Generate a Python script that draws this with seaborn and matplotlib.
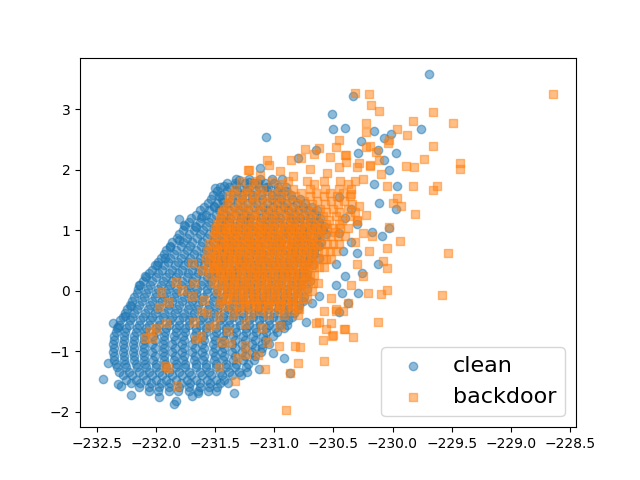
import matplotlib
matplotlib.use("Agg")
import matplotlib.pyplot as plt
import seaborn as sns

# clean (blue) - dense core, one list of x per row
blue_row_y = [1.85, 1.72, 1.59, 1.46, 1.33, 1.20, 1.07, 0.94, 0.81, 0.68, 0.55, 0.42, 0.29, 0.16, 0.03,
              -0.10, -0.23, -0.36, -0.49, -0.62, -0.75, -0.88, -1.01, -1.14, -1.27, -1.40, -1.53, -1.66]
blue_row_x = [
    [-231.32, -231.21, -231.12, -231.02, -230.93],
    [-231.46, -231.38, -231.30, -231.22, -231.13, -231.05, -230.97, -230.90],
    [-231.52, -231.44, -231.35, -231.27, -231.19, -231.11, -231.02, -230.94, -230.86],
    [-231.56, -231.48, -231.40, -231.31, -231.23, -231.15, -231.06, -230.98, -230.90, -230.81, -230.74],
    [-231.63, -231.55, -231.47, -231.38, -231.30, -231.22, -231.13, -231.05, -230.97, -230.88, -230.80, -230.71, -230.64],
    [-231.70, -231.62, -231.53, -231.45, -231.37, -231.28, -231.20, -231.11, -231.03, -230.95, -230.86, -230.78, -230.70, -230.61],
    [-231.75, -231.67, -231.58, -231.50, -231.42, -231.33, -231.25, -231.17, -231.08, -231.00, -230.92, -230.83, -230.75, -230.66, -230.58],
    [-231.80, -231.72, -231.63, -231.55, -231.47, -231.38, -231.30, -231.22, -231.13, -231.05, -230.97, -230.88, -230.80, -230.72, -230.63, -230.56],
    [-231.86, -231.77, -231.69, -231.61, -231.52, -231.44, -231.36, -231.27, -231.19, -231.10, -231.02, -230.94, -230.85, -230.77, -230.69, -230.60],
    [-231.91, -231.83, -231.74, -231.66, -231.58, -231.49, -231.41, -231.33, -231.24, -231.16, -231.07, -230.99, -230.91, -230.82, -230.74, -230.66],
    [-231.96, -231.88, -231.79, -231.71, -231.63, -231.54, -231.46, -231.38, -231.29, -231.21, -231.12, -231.04, -230.96, -230.87, -230.79, -230.70, -230.62],
    [-232.01, -231.93, -231.84, -231.76, -231.68, -231.59, -231.51, -231.43, -231.34, -231.26, -231.17, -231.09, -231.01, -230.92, -230.84, -230.75, -230.67],
    [-232.06, -231.98, -231.89, -231.81, -231.73, -231.64, -231.56, -231.48, -231.39, -231.31, -231.22, -231.14, -231.06, -230.97, -230.89, -230.80, -230.72],
    [-232.11, -232.03, -231.94, -231.86, -231.78, -231.69, -231.61, -231.53, -231.44, -231.36, -231.27, -231.19, -231.11, -231.02, -230.94, -230.85, -230.77, -230.70],
    [-232.15, -232.07, -231.98, -231.90, -231.82, -231.73, -231.65, -231.57, -231.48, -231.40, -231.31, -231.23, -231.15, -231.06, -230.98, -230.89, -230.81, -230.72],
    [-232.18, -232.10, -232.01, -231.93, -231.85, -231.76, -231.68, -231.60, -231.51, -231.43, -231.34, -231.26, -231.18, -231.09, -231.01, -230.92, -230.84, -230.75],
    [-232.22, -232.14, -232.05, -231.97, -231.89, -231.80, -231.72, -231.64, -231.55, -231.47, -231.38, -231.30, -231.22, -231.13, -231.05, -230.96, -230.88, -230.79],
    [-232.26, -232.18, -232.09, -232.01, -231.93, -231.84, -231.76, -231.68, -231.59, -231.51, -231.42, -231.34, -231.26, -231.17, -231.09, -231.00, -230.92, -230.83],
    [-232.30, -232.22, -232.13, -232.05, -231.97, -231.88, -231.80, -231.72, -231.63, -231.55, -231.46, -231.38, -231.30, -231.21, -231.13, -231.04, -230.96, -230.88],
    [-232.33, -232.25, -232.16, -232.08, -232.00, -231.91, -231.83, -231.75, -231.66, -231.58, -231.49, -231.41, -231.33, -231.24, -231.16, -231.07, -230.99, -230.92],
    [-232.35, -232.27, -232.18, -232.10, -232.02, -231.93, -231.85, -231.77, -231.68, -231.60, -231.51, -231.43, -231.35, -231.26, -231.18, -231.09, -231.01],
    [-232.36, -232.28, -232.19, -232.11, -232.03, -231.94, -231.86, -231.78, -231.69, -231.61, -231.52, -231.44, -231.36, -231.27, -231.19, -231.10, -231.04],
    [-232.36, -232.28, -232.19, -232.11, -232.03, -231.94, -231.86, -231.78, -231.69, -231.61, -231.52, -231.44, -231.36, -231.27, -231.19, -231.11],
    [-232.35, -232.27, -232.18, -232.10, -232.02, -231.93, -231.85, -231.77, -231.68, -231.60, -231.51, -231.43, -231.35, -231.26, -231.17],
    [-232.33, -232.25, -232.16, -232.08, -232.00, -231.91, -231.83, -231.75, -231.66, -231.58, -231.49, -231.41, -231.33, -231.24],
    [-232.28, -232.20, -232.11, -232.03, -231.95, -231.86, -231.78, -231.70, -231.61, -231.53, -231.44, -231.36, -231.28],
    [-232.21, -232.13, -232.04, -231.96, -231.88, -231.79, -231.71, -231.63, -231.54, -231.46, -231.39],
    [-232.06, -231.98, -231.89, -231.81, -231.72, -231.64, -231.56],
]

# clean (blue) - second pass through the core, between the rows above
blue_row2_y = [1.78, 1.65, 1.52, 1.39, 1.26, 1.13, 1.00, 0.87, 0.74, 0.61, 0.48, 0.35, 0.22, 0.09, -0.04,
               -0.17, -0.30, -0.43, -0.56, -0.69, -0.82, -0.95, -1.08, -1.21, -1.34, -1.47, -1.60]
blue_row2_x = [
    [-231.40, -231.33, -231.25, -231.17, -231.08, -231.00],
    [-231.48, -231.40, -231.31, -231.23, -231.15, -231.06, -230.98, -230.90],
    [-231.53, -231.44, -231.36, -231.27, -231.19, -231.10, -231.02, -230.94, -230.85, -230.78],
    [-231.59, -231.51, -231.43, -231.34, -231.26, -231.17, -231.09, -231.01, -230.92, -230.84, -230.76, -230.68],
    [-231.66, -231.58, -231.49, -231.41, -231.32, -231.24, -231.16, -231.07, -230.99, -230.90, -230.82, -230.74, -230.65],
    [-231.72, -231.63, -231.55, -231.46, -231.38, -231.29, -231.21, -231.12, -231.04, -230.96, -230.87, -230.79, -230.70, -230.62],
    [-231.77, -231.68, -231.60, -231.51, -231.43, -231.34, -231.26, -231.18, -231.09, -231.01, -230.92, -230.84, -230.76, -230.67, -230.59],
    [-231.82, -231.74, -231.65, -231.57, -231.48, -231.40, -231.32, -231.23, -231.15, -231.06, -230.98, -230.90, -230.81, -230.73, -230.64],
    [-231.88, -231.79, -231.71, -231.62, -231.54, -231.45, -231.37, -231.29, -231.20, -231.12, -231.03, -230.95, -230.86, -230.78, -230.70, -230.62],
    [-231.93, -231.85, -231.76, -231.68, -231.59, -231.51, -231.42, -231.34, -231.26, -231.17, -231.09, -231.00, -230.92, -230.83, -230.75, -230.66],
    [-231.98, -231.90, -231.81, -231.73, -231.64, -231.56, -231.47, -231.39, -231.30, -231.22, -231.14, -231.05, -230.97, -230.88, -230.80, -230.71],
    [-232.03, -231.95, -231.86, -231.78, -231.69, -231.61, -231.52, -231.44, -231.35, -231.27, -231.19, -231.10, -231.02, -230.93, -230.85, -230.76],
    [-232.08, -232.00, -231.91, -231.83, -231.74, -231.66, -231.57, -231.49, -231.40, -231.32, -231.23, -231.15, -231.06, -230.98, -230.89, -230.81, -230.73],
    [-232.13, -232.05, -231.96, -231.88, -231.79, -231.71, -231.62, -231.54, -231.45, -231.37, -231.28, -231.20, -231.11, -231.03, -230.94, -230.86, -230.77],
    [-232.16, -232.08, -232.00, -231.91, -231.83, -231.74, -231.66, -231.57, -231.49, -231.40, -231.32, -231.23, -231.15, -231.06, -230.98, -230.89, -230.80],
    [-232.20, -232.12, -232.03, -231.95, -231.86, -231.78, -231.69, -231.61, -231.52, -231.44, -231.35, -231.27, -231.18, -231.10, -231.01, -230.93, -230.84, -230.76],
    [-232.24, -232.16, -232.07, -231.99, -231.90, -231.82, -231.73, -231.65, -231.56, -231.48, -231.39, -231.31, -231.22, -231.14, -231.05, -230.97, -230.88, -230.80],
    [-232.28, -232.20, -232.11, -232.03, -231.94, -231.86, -231.77, -231.69, -231.60, -231.52, -231.43, -231.35, -231.26, -231.18, -231.09, -231.01, -230.92, -230.85],
    [-232.31, -232.23, -232.14, -232.06, -231.97, -231.89, -231.80, -231.72, -231.63, -231.55, -231.46, -231.38, -231.29, -231.21, -231.12, -231.04, -230.95, -230.89],
    [-232.34, -232.26, -232.17, -232.09, -232.00, -231.92, -231.83, -231.75, -231.66, -231.58, -231.49, -231.41, -231.32, -231.24, -231.15, -231.07, -230.98],
    [-232.35, -232.27, -232.18, -232.10, -232.01, -231.93, -231.84, -231.76, -231.67, -231.59, -231.50, -231.42, -231.33, -231.25, -231.16, -231.08],
    [-232.35, -232.27, -232.18, -232.10, -232.01, -231.93, -231.84, -231.76, -231.67, -231.59, -231.50, -231.42, -231.33, -231.25, -231.16, -231.10],
    [-232.35, -232.27, -232.18, -232.10, -232.01, -231.93, -231.84, -231.76, -231.67, -231.59, -231.50, -231.42, -231.33, -231.25, -231.16],
    [-232.34, -232.26, -232.17, -232.09, -232.00, -231.92, -231.83, -231.75, -231.66, -231.58, -231.49, -231.41, -231.32, -231.22],
    [-232.31, -232.23, -232.14, -232.06, -231.97, -231.89, -231.80, -231.72, -231.63, -231.55, -231.46, -231.38, -231.30],
    [-232.25, -232.17, -232.08, -232.00, -231.91, -231.83, -231.74, -231.66, -231.57, -231.49, -231.42],
    [-232.14, -232.06, -231.97, -231.89, -231.80, -231.72, -231.63, -231.55, -231.48],
]

# clean (blue) - scattered points
blue_x = [-230.51, -230.50, -231.07, -231.12, -230.65, -230.80, -231.80, -231.76, -231.50, -231.42,
          -231.47, -231.30, -231.32, -231.21, -231.14, -231.07, -231.51, -231.43, -231.61, -231.66,
          -231.80, -231.88, -231.92, -231.99, -232.09, -232.14, -232.21, -232.26, -232.36, -232.32,
          -232.40, -232.45, -232.32, -232.29, -232.21, -231.97, -231.85, -231.83, -231.69, -231.64,
          -231.49, -231.34, -231.23, -231.13, -231.01, -230.92, -230.87, -230.73, -230.68, -230.62,
          -229.69, -230.33, -230.40, -230.16, -230.01, -229.76, -230.27, -230.07, -230.29, -229.97,
          -230.12, -230.07, -230.03, -230.16, -229.96, -230.11, -229.97, -230.03, -230.17, -230.09,
          -230.12, -230.26, -230.29, -230.43, -230.45, -230.35, -230.40, -230.30, -230.45, -230.35,
          -230.42, -230.30, -230.48, -230.40, -230.48, -230.38, -230.45]
blue_y = [2.93, 2.67, 2.54, 2.03, 2.33, 2.19, 1.18, 1.09, 1.70, 1.73,
          1.57, 1.84, 1.75, 1.80, 1.78, 1.72, 1.40, 1.47, 1.23, 1.06,
          0.84, 0.73, 0.54, 0.43, 0.24, 0.10, -0.26, -0.42, -0.53, -0.60,
          -1.20, -1.46, -1.55, -1.58, -1.72, -1.75, -1.88, -1.83, -1.74, -1.69,
          -1.66, -1.70, -1.35, -1.30, -1.03, -1.11, -1.36, -0.51, -0.20, -0.09,
          3.58, 3.22, 2.70, 2.64, 2.59, 2.67, 2.48, 2.52, 2.28, 2.28,
          2.33, 2.17, 2.00, 1.77, 1.74, 1.45, 1.35, 1.04, 0.98, 0.90,
          0.45, 0.30, -0.04, -0.03, 1.55, 1.35, 1.20, 1.10, 0.95, 0.80,
          0.65, 0.62, 0.45, 0.25, 0.10, -0.20, -0.35]

# backdoor (orange) - main band
orange_row_y = [1.82, 1.69, 1.56, 1.43, 1.30, 1.17, 1.04, 0.91, 0.78, 0.65, 0.52,
                0.39, 0.26, 0.13, 0.00, -0.13, -0.26, -0.40]
orange_row_x = [
    [-231.28, -231.15, -231.02, -230.88, -230.72, -230.58, -230.44, -230.32],
    [-231.33, -231.22, -231.10, -230.96, -230.84, -230.70, -230.57, -230.45, -230.35],
    [-231.38, -231.27, -231.17, -231.05, -230.93, -230.82, -230.70, -230.58, -230.47, -230.36],
    [-231.40, -231.30, -231.21, -231.11, -231.00, -230.90, -230.79, -230.68, -230.57, -230.46, -230.34],
    [-231.44, -231.35, -231.25, -231.16, -231.06, -230.97, -230.87, -230.77, -230.67, -230.56, -230.45, -230.32],
    [-231.46, -231.37, -231.28, -231.19, -231.10, -231.01, -230.92, -230.83, -230.74, -230.64, -230.54, -230.43, -230.30],
    [-231.50, -231.41, -231.32, -231.23, -231.14, -231.05, -230.96, -230.87, -230.78, -230.69, -230.60, -230.50, -230.38],
    [-231.52, -231.43, -231.34, -231.25, -231.16, -231.07, -230.98, -230.89, -230.80, -230.71, -230.62, -230.52, -230.40],
    [-231.55, -231.46, -231.37, -231.28, -231.19, -231.10, -231.01, -230.92, -230.83, -230.74, -230.65, -230.55, -230.45],
    [-231.57, -231.48, -231.39, -231.30, -231.21, -231.12, -231.03, -230.94, -230.85, -230.76, -230.67, -230.58, -230.48],
    [-231.58, -231.49, -231.40, -231.31, -231.22, -231.13, -231.04, -230.95, -230.86, -230.77, -230.68, -230.59, -230.52],
    [-231.56, -231.47, -231.38, -231.29, -231.20, -231.11, -231.02, -230.93, -230.84, -230.75, -230.66, -230.58],
    [-231.55, -231.46, -231.37, -231.28, -231.19, -231.10, -231.01, -230.92, -230.83, -230.74, -230.66],
    [-231.52, -231.43, -231.34, -231.25, -231.16, -231.07, -230.98, -230.89, -230.80, -230.71, -230.63],
    [-231.48, -231.39, -231.30, -231.21, -231.12, -231.03, -230.94, -230.85, -230.76, -230.68],
    [-231.45, -231.35, -231.26, -231.17, -231.08, -230.99, -230.90, -230.81, -230.72],
    [-231.42, -231.30, -231.20, -231.10, -231.00, -230.90, -230.80],
    [-231.35, -231.20, -231.05, -230.92, -230.80],
]

# backdoor (orange) - second pass, between the rows above
orange_row2_y = [1.76, 1.62, 1.49, 1.36, 1.23, 1.10, 0.97, 0.84, 0.71, 0.58, 0.45, 0.32,
                 0.19, 0.06, -0.07, -0.20, -0.33]
orange_row2_x = [
    [-231.18, -230.93, -230.66, -230.38],
    [-231.35, -231.24, -231.13, -231.01, -230.89, -230.77, -230.65, -230.53, -230.42],
    [-231.38, -231.28, -231.18, -231.08, -230.97, -230.86, -230.75, -230.64, -230.52, -230.41],
    [-231.42, -231.32, -231.23, -231.13, -231.03, -230.93, -230.83, -230.72, -230.61, -230.50, -230.38],
    [-231.45, -231.36, -231.27, -231.17, -231.08, -230.99, -230.89, -230.80, -230.70, -230.59, -230.48, -230.36],
    [-231.48, -231.39, -231.30, -231.21, -231.12, -231.03, -230.94, -230.85, -230.75, -230.66, -230.56, -230.45],
    [-231.50, -231.41, -231.32, -231.23, -231.14, -231.05, -230.96, -230.87, -230.78, -230.69, -230.60, -230.49],
    [-231.40, -231.31, -231.22, -231.13, -231.04, -230.95, -230.86, -230.77, -230.68],
    [-231.48, -231.39, -231.30, -231.21, -231.12, -231.03, -230.94, -230.85, -230.76, -230.67],
    [-231.50, -231.41, -231.32, -231.23, -231.14, -231.05, -230.96, -230.87, -230.78, -230.69],
    [-231.48, -231.39, -231.30, -231.21, -231.12, -231.03, -230.94, -230.85, -230.76, -230.68],
    [-231.46, -231.37, -231.28, -231.19, -231.10, -231.01, -230.92, -230.83, -230.74],
    [-231.43, -231.34, -231.25, -231.16, -231.07, -230.98, -230.89, -230.80, -230.72],
    [-231.40, -231.31, -231.22, -231.13, -231.04, -230.95, -230.86, -230.77],
    [-231.35, -231.26, -231.17, -231.08, -230.99, -230.90, -230.81],
    [-231.25, -231.15, -231.05, -230.95, -230.85],
    [-231.30, -231.12, -230.96, -230.84],
]

# backdoor (orange) - third pass, lower and densest part of the band
orange_row3_y = [1.04, 0.91, 0.78, 0.65, 0.52, 0.39, 0.26, 0.13, 0.00, -0.13, -0.26]
orange_row3_x = [
    [-231.46, -231.37, -231.28, -231.19, -231.10, -231.01, -230.92, -230.83, -230.74, -230.65, -230.55, -230.44],
    [-231.48, -231.39, -231.30, -231.21, -231.12, -231.03, -230.94, -230.85, -230.76, -230.67, -230.57, -230.46],
    [-231.51, -231.42, -231.33, -231.24, -231.15, -231.06, -230.97, -230.88, -230.79, -230.70, -230.60, -230.50],
    [-231.53, -231.44, -231.35, -231.26, -231.17, -231.08, -230.99, -230.90, -230.81, -230.72, -230.63, -230.53],
    [-231.54, -231.45, -231.36, -231.27, -231.18, -231.09, -231.00, -230.91, -230.82, -230.73, -230.64, -230.56],
    [-231.52, -231.43, -231.34, -231.25, -231.16, -231.07, -230.98, -230.89, -230.80, -230.71, -230.62],
    [-231.50, -231.41, -231.32, -231.23, -231.14, -231.05, -230.96, -230.87, -230.78, -230.70],
    [-231.48, -231.39, -231.30, -231.21, -231.12, -231.03, -230.94, -230.85, -230.76, -230.67],
    [-231.44, -231.35, -231.26, -231.17, -231.08, -230.99, -230.90, -230.81, -230.72],
    [-231.40, -231.30, -231.21, -231.12, -231.03, -230.94, -230.85, -230.76],
    [-231.36, -231.25, -231.15, -231.05, -230.95, -230.85],
]

# backdoor (orange) - scattered points
orange_x = [-231.22, -231.06, -231.04, -230.74, -230.62, -230.48, -230.86,
            -231.82, -231.33, -230.90, -230.87, -230.80, -230.58, -231.08, -231.47, -231.92, -231.90,
            -232.09, -232.03, -232.05, -232.00, -231.91, -231.96, -231.90, -231.97,
            -231.68, -231.66, -231.62, -231.50, -231.45, -231.37, -231.39,
            -231.25, -231.24, -231.31, -231.14, -231.06,
            -230.96, -230.82, -230.78, -230.59, -230.51, -230.56, -230.62, -230.65, -230.48, -230.58, -230.52,
            -228.64, -230.32, -230.20, -230.18, -230.11, -229.66, -229.83, -229.49, -230.22, -230.22,
            -229.96, -229.88, -230.03, -230.04, -230.19, -229.66, -229.73, -229.89, -229.82, -229.43,
            -229.43, -230.19, -230.11, -230.10, -230.05, -229.83, -229.66, -229.62, -229.96, -230.00,
            -229.93, -229.81, -230.03, -229.94, -230.17, -230.05, -229.53, -230.08, -230.05, -229.58,
            -230.21, -230.10, -230.05, -230.12, -230.33, -230.40, -230.50, -230.38, -230.42, -230.48,
            -230.52, -230.30, -230.25, -230.35, -230.28, -230.22, -230.30, -230.25, -230.32, -230.20,
            -230.30, -230.25, -230.35, -230.40, -230.45,
            -231.83, -231.78, -231.68, -231.69, -231.59, -231.62, -231.57, -231.47, -231.47, -231.40,
            -231.69, -231.61, -231.51, -231.55, -231.25, -231.10, -230.95, -230.79, -230.41,
            -230.66, -230.77, -230.53, -230.39, -230.39, -230.28, -230.19, -230.22, -230.14,
            -231.21, -230.95, -230.70, -230.55, -230.45, -231.12, -230.84]
orange_y = [2.00, 2.16, 2.08, 2.34, 2.37, 2.38, 2.16,
            -1.58, -1.50, -1.98, -1.36, -1.20, -1.16, -1.30, -1.26, -1.24, -1.28,
            -0.79, -0.79, -0.67, -0.62, -0.53, -0.02, -0.19, -0.27,
            -0.51, -0.80, -0.75, -0.56, -0.84, -0.86, -0.66,
            -0.89, -1.04, -1.11, -1.07, -0.84,
            -0.91, -0.91, -0.93, -0.81, -0.75, -0.64, -0.51, -0.53, -0.31, -0.34, -0.12,
            3.26, 3.28, 3.25, 3.07, 2.97, 2.95, 2.81, 2.78, 2.77, 2.63,
            2.68, 2.57, 2.49, 2.44, 2.39, 2.39, 2.18, 2.06, 2.04, 2.11,
            2.02, 2.07, 2.16, 1.93, 1.74, 1.73, 1.67, 1.73, 1.54, 1.45,
            1.40, 1.27, 1.05, 0.83, 0.90, 0.70, 0.62, 0.50, 0.37, -0.07,
            -0.04, -0.05, 0.02, -0.52, -0.77, -0.63, -0.74, -0.20, -0.34, -0.34,
            -0.53, 2.05, 1.85, 1.60, 1.40, 1.25, 1.15, 0.95, 0.80, 0.65,
            0.45, 0.25, 0.10, 2.25, 2.50,
            0.15, 0.02, 0.13, -0.09, -0.15, -0.34, -0.37, -0.20, -0.42, -0.12,
            0.46, 0.35, 0.37, -0.60, -0.55, -0.62, -0.58, -0.31, -0.64,
            2.27, 2.19, 2.22, 2.24, 2.13, 2.11, 2.08, 2.38, 2.30,
            2.00, 1.98, 2.02, 1.95, 2.05, 1.92, 1.90]


def flatten(row_y, row_x):
    xs, ys = [], []
    for yv, row in zip(row_y, row_x):
        xs += row
        ys += [yv] * len(row)
    return xs, ys


cx1, cy1 = flatten(blue_row_y, blue_row_x)
cx2, cy2 = flatten(blue_row2_y, blue_row2_x)
clean_x = cx1 + cx2 + blue_x
clean_y = cy1 + cy2 + blue_y

bx1, by1 = flatten(orange_row_y, orange_row_x)
bx2, by2 = flatten(orange_row2_y, orange_row2_x)
bx3, by3 = flatten(orange_row3_y, orange_row3_x)
bd_x = bx1 + bx2 + bx3 + orange_x
bd_y = by1 + by2 + by3 + orange_y

fig, ax = plt.subplots(figsize=(6.4, 4.8), dpi=100)
sns.scatterplot(x=clean_x, y=clean_y, marker="o", color="C0", alpha=0.5,
                s=36, edgecolor="C0", linewidth=1.0, label="clean", ax=ax)
sns.scatterplot(x=bd_x, y=bd_y, marker="s", color="C1", alpha=0.5,
                s=36, edgecolor="C1", linewidth=1.0, label="backdoor", ax=ax)
ax.legend(loc="lower right", fontsize=16)
plt.savefig("out.png")
